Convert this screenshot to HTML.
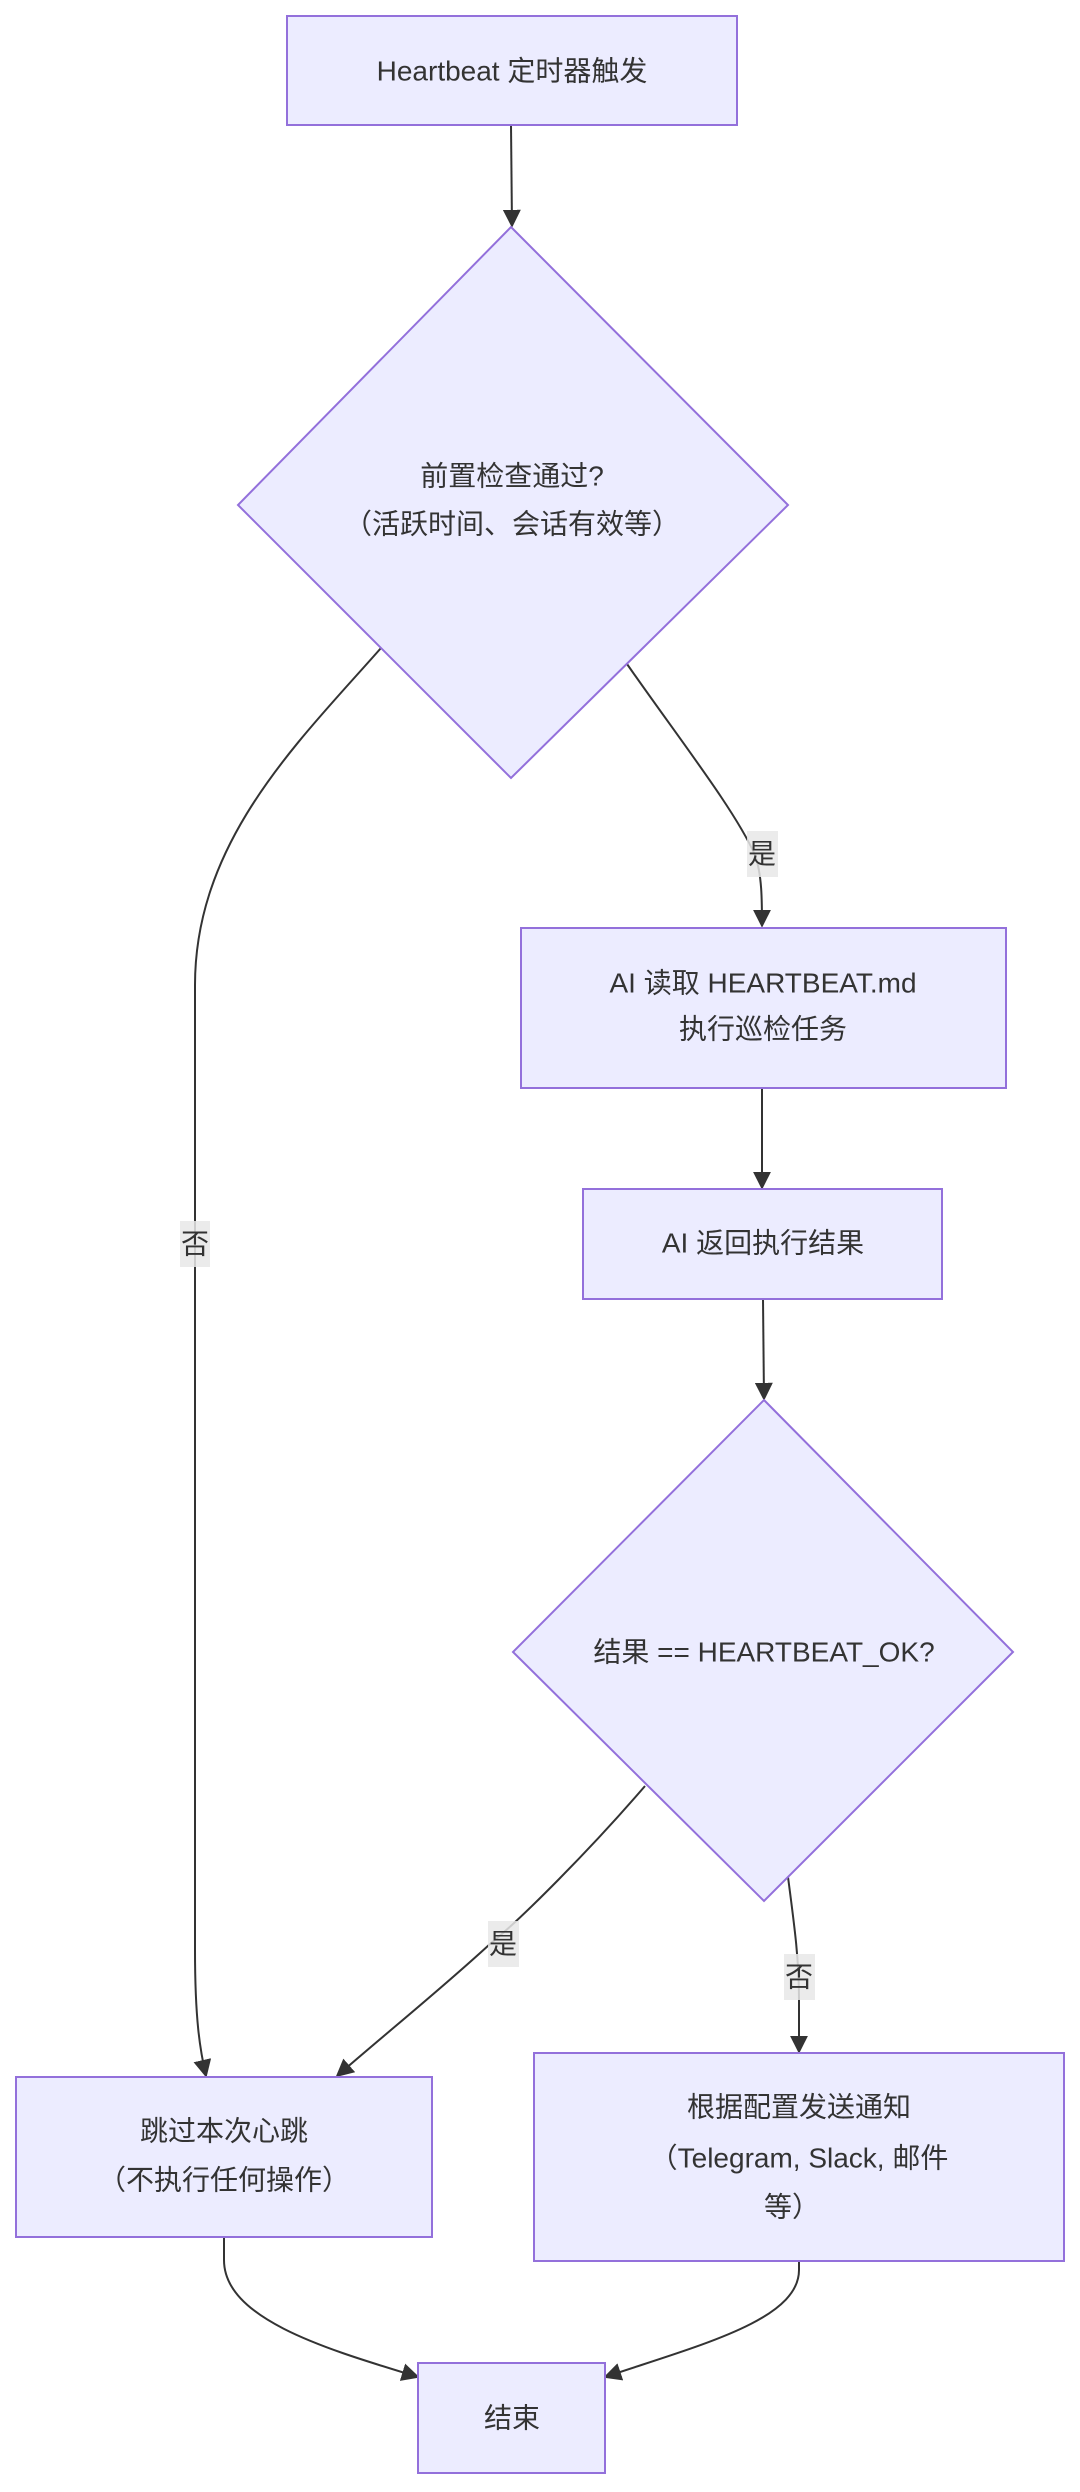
<!DOCTYPE html>
<html><head><meta charset="utf-8"><style>
html,body{margin:0;padding:0;background:#fff;}
svg{display:block;}
text{font-family:"Liberation Sans","Noto Sans CJK SC",sans-serif;fill:#333;font-size:28px;text-anchor:middle;dominant-baseline:central;}
.n{fill:#ECECFF;stroke:#9370DB;stroke-width:2;}
.e{fill:none;stroke:#333;stroke-width:2;}
.lb{fill:#e8e8e8;opacity:0.85;}
</style></head><body>
<svg width="1080" height="2492" viewBox="0 0 1080 2492" xmlns="http://www.w3.org/2000/svg">
<defs><marker id="a" viewBox="0 0 10 10" refX="9" refY="5" markerWidth="8" markerHeight="8" orient="auto" markerUnits="userSpaceOnUse" ><path d="M0,0L10,5L0,10z" fill="#333"/></marker>
<marker id="b" viewBox="0 0 10 10" refX="9" refY="5" markerWidth="18" markerHeight="18" orient="auto" markerUnits="userSpaceOnUse"><path d="M0,0L10,5L0,10z" fill="#333"/></marker></defs>
<!-- edges -->
<path class="e" d="M511,125 L512,226" marker-end="url(#b)"/>
<path class="e" d="M381,648 C300,740 195,840 195,985 L195,1950 C195,2020 200,2050 206,2076" marker-end="url(#b)"/>
<path class="e" d="M627,664 C680,740 735,810 755,855 C762,875 762,900 762,926" marker-end="url(#b)"/>
<path class="e" d="M762,1088 L762,1188" marker-end="url(#b)"/>
<path class="e" d="M763,1299 L764,1399" marker-end="url(#b)"/>
<path class="e" d="M645,1786 C590,1850 520,1920 490,1944 C440,1990 390,2030 337,2076" marker-end="url(#b)"/>
<path class="e" d="M788,1877 C795,1930 799,1960 799,2000 L799,2052" marker-end="url(#b)"/>
<path class="e" d="M224,2237 L224,2260 C224,2320 330,2350 418,2377" marker-end="url(#b)"/>
<path class="e" d="M799,2261 L799,2270 C799,2320 700,2345 605,2377" marker-end="url(#b)"/>
<!-- nodes -->
<rect class="n" x="287" y="16" width="450" height="109"/>
<text x="512" y="71">Heartbeat 定时器触发</text>
<polygon class="n" points="511,227 788,505 511,778 238,505"/>
<text x="512" y="476">前置检查通过?</text>
<text x="512" y="524">（活跃时间、会话有效等）</text>
<rect class="n" x="521" y="928" width="485" height="160"/>
<text x="763" y="983">AI 读取 HEARTBEAT.md</text>
<text x="763" y="1029">执行巡检任务</text>
<rect class="n" x="583" y="1189" width="359" height="110"/>
<text x="763" y="1243">AI 返回执行结果</text>
<polygon class="n" points="764,1400 1013,1652 764,1901 513,1652"/>
<text x="764" y="1652">结果 == HEARTBEAT_OK?</text>
<rect class="n" x="16" y="2077" width="416" height="160"/>
<text x="224" y="2131">跳过本次心跳</text>
<text x="224" y="2180">（不执行任何操作）</text>
<rect class="n" x="534" y="2053" width="530" height="208"/>
<text x="799" y="2107">根据配置发送通知</text>
<text x="799" y="2158">（Telegram, Slack, 邮件</text>
<text x="792" y="2207">等）</text>
<rect class="n" x="418" y="2363" width="187" height="110"/>
<text x="512" y="2418">结束</text>
<!-- labels -->
<rect class="lb" x="180" y="1221" width="30" height="46"/><text x="195" y="1244">否</text>
<rect class="lb" x="747" y="831" width="31" height="46"/><text x="762" y="854">是</text>
<rect class="lb" x="488" y="1921" width="31" height="46"/><text x="503" y="1944">是</text>
<rect class="lb" x="784" y="1954" width="31" height="46"/><text x="799" y="1977">否</text>
</svg>
</body></html>
